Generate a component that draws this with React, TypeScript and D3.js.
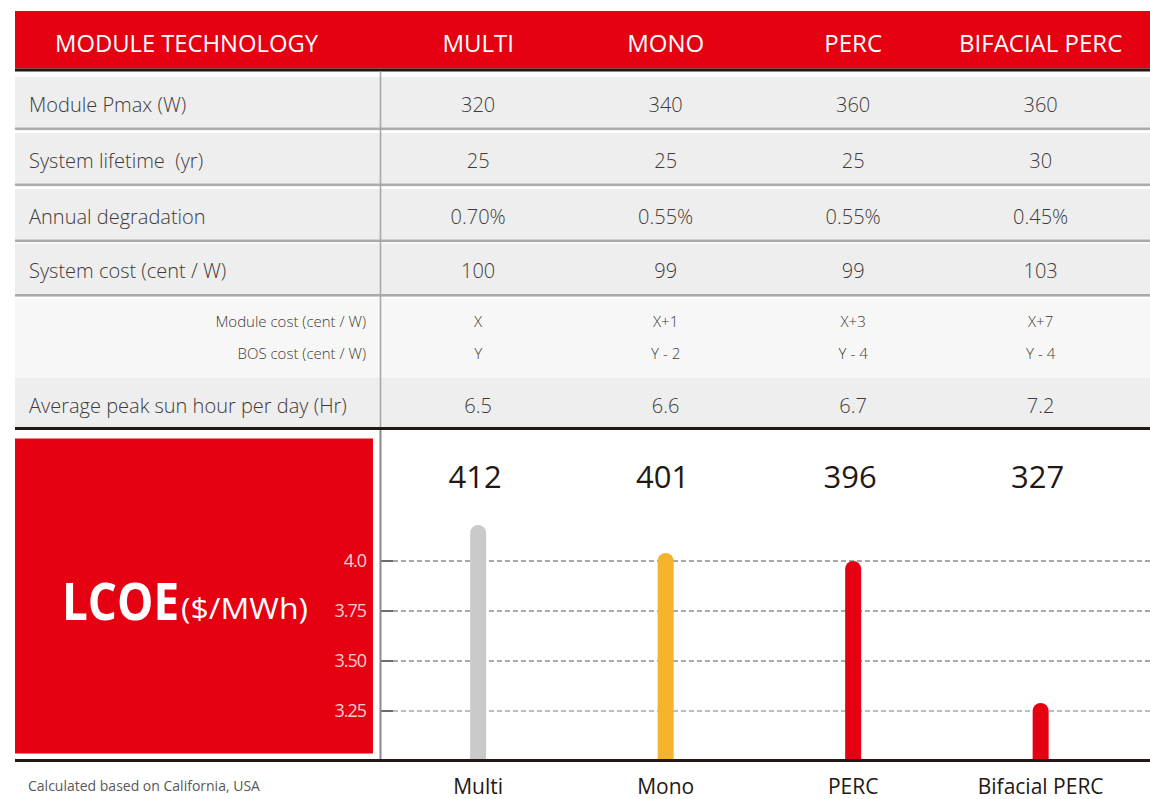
import React from "react";
import * as d3 from "d3";

const technologies = ["MULTI", "MONO", "PERC", "BIFACIAL PERC"];
const pmax = ["320", "340", "360", "360"];
const lifetime = ["25", "25", "25", "30"];
const degradation = ["0.70%", "0.55%", "0.55%", "0.45%"];
const systemCost = ["100", "99", "99", "103"];
const moduleCost = ["X", "X+1", "X+3", "X+7"];
const bosCost = ["Y", "Y - 2", "Y - 4", "Y - 4"];
const sunHours = ["6.5", "6.6", "6.7", "7.2"];
const lcoeLabels = ["412", "401", "396", "327"];
const barValues = [4.18, 4.04, 4.0, 3.29];
const barNames = ["Multi", "Mono", "PERC", "Bifacial PERC"];
const yTicks = [4.0, 3.75, 3.5, 3.25];
const yTickLabels = ["4.0", "3.75", "3.50", "3.25"];

const RED = "#e50012";
const DARK = "#231815";
const TXT = "#3e3a39";
const barColors = ["#c9caca", "#f6b42c", RED, RED];
const FONT = "'Open Sans', 'Noto Sans', sans-serif";

const W = 1150;
const H = 799;

export default function App() {
  const x = d3.scaleBand<string>().domain(technologies).range([384.4, 1134.4]);
  const cx = (i: number) => (x(technologies[i]) as number) + x.bandwidth() / 2;
  const y = d3.scaleLinear().domain([3, 4]).range([761, 561]);

  const mainRows = [
    { label: "Module Pmax (W)", values: pmax, top: 77 },
    { label: "System lifetime  (yr)", values: lifetime, top: 133 },
    { label: "Annual degradation", values: degradation, top: 189 },
    { label: "System cost (cent / W)", values: systemCost, top: 243.5 },
  ];

  const barW = 16;
  const r = barW / 2;
  const barPath = (i: number) => {
    const c = cx(i);
    const t = y(barValues[i]);
    const b = y(3);
    return `M${c - r},${b} V${t + r} A${r},${r} 0 0 1 ${c + r},${t + r} V${b} Z`;
  };

  return (
    <svg
      width={W}
      height={H}
      style={{ position: "absolute", left: 0, top: 0, display: "block", background: "#fff" }}
      fontFamily={FONT}
    >
      {/* Header */}
      <rect x={15} y={11} width={W - 15} height={57.5} fill={RED} />
      <rect x={15} y={68.5} width={W - 15} height={3} fill={DARK} />
      <text x={55} y={52} fill="#fff" fontSize={24} textLength={263} lengthAdjust="spacingAndGlyphs">
        MODULE TECHNOLOGY
      </text>
      {technologies.map((t, i) => (
        <text key={t} x={cx(i)} y={52} fill="#fff" fontSize={24} textAnchor="middle">
          {t}
        </text>
      ))}

      {/* Main rows */}
      {mainRows.map((row) => (
        <g key={row.label}>
          <rect x={15} y={row.top} width={W - 15} height={50.5} fill="#eeeeee" />
          <rect x={15} y={row.top + 50.5} width={W - 15} height={2.6} fill="#aaaaaa" />
          <text x={29} y={row.top + 27} dominantBaseline="central" fill={TXT} fontSize={20} fontWeight={300} xmlSpace="preserve">
            {row.label}
          </text>
          {row.values.map((v, i) => (
            <text key={i} x={cx(i)} y={row.top + 27} dominantBaseline="central" textAnchor="middle" fill={TXT} fontSize={20} fontWeight={300}>
              {v}
            </text>
          ))}
        </g>
      ))}

      {/* Cost breakdown row */}
      <rect x={15} y={298} width={W - 15} height={80} fill="#f7f7f7" />
      <text x={366} y={321} dominantBaseline="central" textAnchor="end" fill={TXT} fontSize={15} fontWeight={300}>
        Module cost (cent / W)
      </text>
      <text x={366} y={353} dominantBaseline="central" textAnchor="end" fill={TXT} fontSize={15} fontWeight={300}>
        BOS cost (cent / W)
      </text>
      {moduleCost.map((v, i) => (
        <text key={"m" + i} x={cx(i)} y={321} dominantBaseline="central" textAnchor="middle" fill={TXT} fontSize={15} fontWeight={300}>
          {v}
        </text>
      ))}
      {bosCost.map((v, i) => (
        <text key={"b" + i} x={cx(i)} y={353} dominantBaseline="central" textAnchor="middle" fill={TXT} fontSize={15} fontWeight={300}>
          {v}
        </text>
      ))}

      {/* Sun hours row */}
      <rect x={15} y={378} width={W - 15} height={49} fill="#eeeeee" />
      <text x={29} y={405} dominantBaseline="central" fill={TXT} fontSize={20} fontWeight={300}>
        Average peak sun hour per day (Hr)
      </text>
      {sunHours.map((v, i) => (
        <text key={"s" + i} x={cx(i)} y={405} dominantBaseline="central" textAnchor="middle" fill={TXT} fontSize={20} fontWeight={300}>
          {v}
        </text>
      ))}
      <rect x={15} y={427} width={W - 15} height={3} fill={DARK} />

      {/* Table vertical divider */}
      <line x1={380.5} x2={380.5} y1={71.5} y2={427} stroke="#a8a8a8" strokeWidth={1.6} />

      {/* LCOE box */}
      <rect x={15} y={438.5} width={358} height={315} fill={RED} />
      <text x={62} y={620} fill="#fff" fontSize={52} fontWeight={700} textLength={117} lengthAdjust="spacingAndGlyphs">
        LCOE
      </text>
      <text x={181} y={619} fill="#fff" fontSize={30} textLength={127} lengthAdjust="spacingAndGlyphs">
        ($/MWh)
      </text>

      {/* Y ticks and grid */}
      {yTicks.map((t, i) => (
        <g key={t}>
          <text
            x={366}
            y={y(t) - 1}
            dominantBaseline="central"
            textAnchor="end"
            fill="rgba(255,255,255,0.82)"
            fontSize={18}
            letterSpacing={-1}
          >
            {yTickLabels[i]}
          </text>
          <line x1={380} x2={393} y1={y(t)} y2={y(t)} stroke="#3e3a39" strokeWidth={1.5} />
          <line x1={393} x2={W} y1={y(t)} y2={y(t)} stroke={i === 3 ? "#a8a8a8" : "#8c8c8c"} strokeWidth={1.3} strokeDasharray="5,3" />
        </g>
      ))}

      <line x1={380.5} x2={380.5} y1={430} y2={760} stroke="#898989" strokeWidth={2} />

      {/* Bars */}
      {barValues.map((v, i) => (
        <path key={"bar" + i} d={barPath(i)} fill={barColors[i]} />
      ))}

      {/* LCOE value labels */}
      {lcoeLabels.map((v, i) => (
        <text key={"l" + i} x={cx(i) - 3} y={488} textAnchor="middle" fill={DARK} fontSize={31}>
          {v}
        </text>
      ))}

      {/* Base line */}
      <rect x={15} y={759} width={W - 15} height={3} fill={DARK} />

      {/* Category labels */}
      {barNames.map((n, i) => (
        <text key={n} x={cx(i)} y={794} textAnchor="middle" fill={DARK} fontSize={21}>
          {n}
        </text>
      ))}

      <text x={28} y={791} fill="#595757" fontSize={14}>
        Calculated based on California, USA
      </text>
    </svg>
  );
}
